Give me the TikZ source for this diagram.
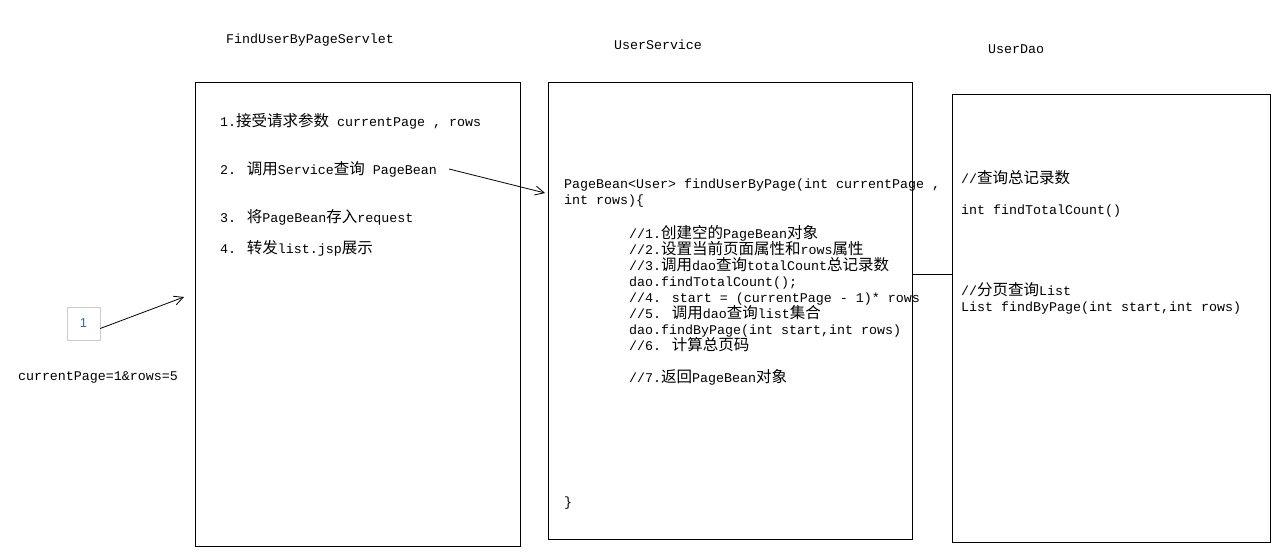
\documentclass[tikz,border=0pt]{standalone}
\usepackage{fontspec}
\setmainfont{Liberation Mono}
\newfontfamily\cjk{Noto Sans CJK SC}
\newfontfamily\uifont{Liberation Sans}
\newcommand{\zh}[1]{{\cjk\fontsize{15.5}{16}\selectfont #1}}
\definecolor{pageblue}{HTML}{3B6CB8}
\usetikzlibrary{arrows.meta}

\begin{document}
\begin{tikzpicture}[%
        x=1pt,y=-1pt,%
        every node/.style={font=\fontsize{13.33}{16}\selectfont},%
        layer/.style={%
            draw=black,%
            line width=1pt,%
            inner sep=0pt%
        },%
        code/.style={%
            anchor=west,%
            align=left,%
            inner sep=0pt%
        },%
        title/.style={inner sep=0pt},%
        link/.style={%
            line width=.8pt,%
            -{Straight Barb[length=9pt,width=9pt]}%
        }%
    ]
    \useasboundingbox[fill=white] (0,0) rectangle (1281,557);
    % the three layers
    \node (servlet) at (357.5,314) [layer,minimum width=325pt,minimum height=464pt]{};
    \node (service) at (730,310.5) [layer,minimum width=364pt,minimum height=457pt]{};
    \node (dao)     at (1111,318)  [layer,minimum width=318pt,minimum height=448pt]{};
    \node (servlettitle) at (310,40)  [title]{FindUserByPageServlet};
    \node (servicetitle) at (658,45)  [title]{UserService};
    \node (daotitle)     at (1016,49) [title]{UserDao};
    % the request from the page
    \node (page) at (83.5,323.5) [draw=black!20,minimum size=33pt,text=pageblue,font=\uifont\fontsize{13}{15}\selectfont]{1};
    \node (params) at (98,377) [title]{currentPage=1\&rows=5};
    % servlet steps
    \node (accept)  at (220,121) [code]{1.\zh{接受请求参数} currentPage , rows};
    \node (call)    at (220,169) [code]{2. \zh{调用}Service\zh{查询} PageBean};
    \node (store)   at (220,217) [code]{3. \zh{将}PageBean\zh{存入}request};
    \node (forward) at (220,248) [code]{4. \zh{转发}list.jsp\zh{展示}};
    % service method
    \node (method) at (564,193) [code]{PageBean<User> findUserByPage(int currentPage ,\\int rows)\{};
    \node (steps)  at (629,305) [code]{//1.\zh{创建空的}PageBean\zh{对象}\\
        //2.\zh{设置当前页面属性和}rows\zh{属性}\\
        //3.\zh{调用}dao\zh{查询}totalCount\zh{总记录数}\\
        dao.findTotalCount();\\
        //4. start = (currentPage - 1)* rows\\
        //5. \zh{调用}dao\zh{查询}list\zh{集合}\\
        dao.findByPage(int start,int rows)\\
        //6. \zh{计算总页码}\\[16pt]
        //7.\zh{返回}PageBean\zh{对象}};
    \node (close)  at (564,503) [code]{\}};
    % dao methods
    \node (countnote) at (961,178) [code]{//\zh{查询总记录数}};
    \node (count)     at (961,211) [code]{int findTotalCount()};
    \node (list)      at (961,298) [code]{//\zh{分页查询}List\\List findByPage(int start,int rows)};
    % connectors
    \coordinate (servletin) at (184,297);
    \coordinate (servicein) at (545,193);
    \draw[link] ([yshift=-5pt]page.east) -- (servletin);
    \draw[link] ([xshift=12pt]call.east) -- (servicein);
    \draw[line width=.8pt] ([yshift=36.5pt]service.east) coordinate (daolink) -- (daolink -| dao.west);
\end{tikzpicture}
\end{document}
